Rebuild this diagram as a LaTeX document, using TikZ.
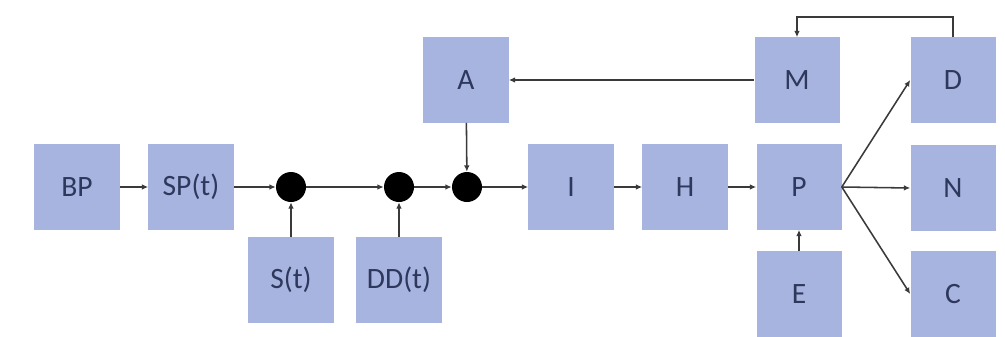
\documentclass[tikz,border=0pt]{standalone}
\usepackage{fontspec}
\setmainfont{Carlito}
\usepackage{xcolor}
\usetikzlibrary{arrows.meta}
\definecolor{boxfill}{RGB}{168,180,224}
\definecolor{boxtext}{RGB}{46,56,92}
\definecolor{linegray}{RGB}{58,58,58}
\tikzset{
	blockbox/.style={fill=boxfill, text=boxtext, minimum size=2.125cm, inner sep=0pt, font=\fontsize{21}{25}\selectfont},
	junction/.style={circle, fill=black, minimum size=0.75cm, inner sep=0pt},
	flow/.style={draw=linegray, line width=1.1pt, -{Latex[length=4.5pt,width=4pt]}}
}

\begin{document}
\begin{tikzpicture}[x=0.025cm, y=-0.025cm]
	\useasboundingbox (0,0) rectangle (1005,336);
	% blocks
	\foreach \boxName/\xCoord/\yCoord/\boxText in {BP/77/187/BP, SP/191/187/SP(t), St/291/280/S(t), DD/399/280/DD(t), A/466/80/A, I/571/187/I, H/685/187/H, P/799/187/P, M/797/80/M, E/799/294/E, D/953/80/D, N/953/188/N, C/953/294/C}
	{
		\node[blockbox] (\boxName) at (\xCoord,\yCoord) {\boxText};
	}
	% summing points
	\foreach \jName/\xCoord in {j1/291, j2/399, j3/467}
	{
		\node[junction] (\jName) at (\xCoord,187) {};
	}
	\coordinate (fbtop) at (875,17);
	% main line
	\draw[flow] (BP) -- (SP);
	\draw[flow] (SP) -- (j1);
	\draw[flow] (j1) -- (j2);
	\draw[flow] (j2) -- (j3);
	\draw[flow] (j3) -- (I);
	\draw[flow] (I) -- (H);
	\draw[flow] (H) -- (P);
	% inputs from below and above
	\draw[flow] (St) -- (j1);
	\draw[flow] (DD) -- (j2);
	\draw[flow] (A) -- (j3);
	\draw[flow] (E) -- (P);
	% feedback
	\draw[flow] (M) -- (A);
	\draw[flow] (D.north) |- (fbtop) -| (M.north);
	% outputs
	\draw[flow] (P.east) -- (D.west);
	\draw[flow] (P.east) -- (N.west);
	\draw[flow] (P.east) -- (C.west);
\end{tikzpicture}
\end{document}
